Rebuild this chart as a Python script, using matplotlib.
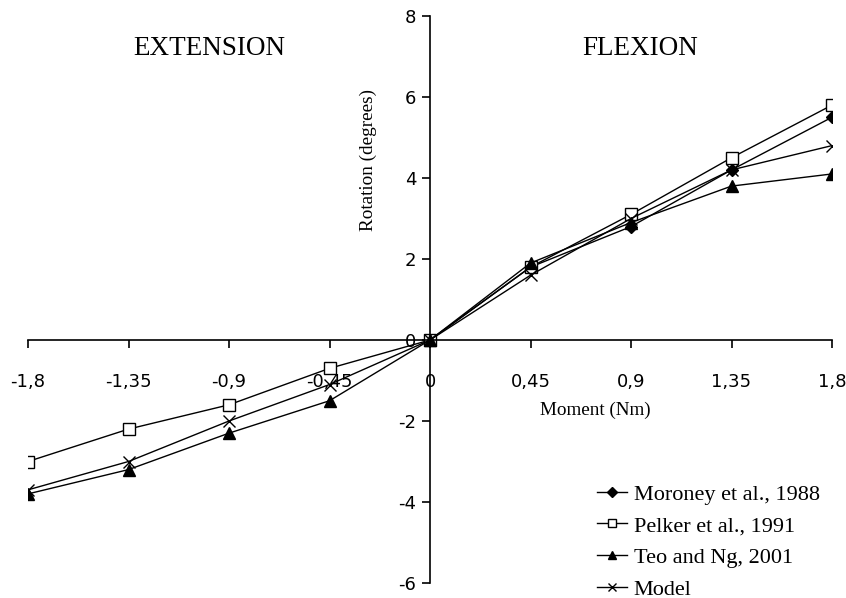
import matplotlib
matplotlib.use("Agg")
from matplotlib import pyplot as plt

# moment (Nm) and rotation (degrees)
moment = [-1.8, -1.35, -0.9, -0.45, 0, 0.45, 0.9, 1.35, 1.8]
moment_flex = [0, 0.45, 0.9, 1.35, 1.8]
moroney = [0, 1.8, 2.8, 4.2, 5.5]
pelker = [-3.0, -2.2, -1.6, -0.7, 0, 1.8, 3.1, 4.5, 5.8]
teo = [-3.8, -3.2, -2.3, -1.5, 0, 1.9, 2.9, 3.8, 4.1]
model = [-3.7, -3.0, -2.0, -1.1, 0, 1.6, 3.0, 4.2, 4.8]

x_labels = ["-1,8", "-1,35", "-0,9", "-0,45", "0", "0,45", "0,9", "1,35", "1,8"]
y_ticks = [-6, -4, -2, 0, 2, 4, 6, 8]

serif = "Liberation Serif"
plt.rcParams["axes.unicode_minus"] = False


def main():
    fig = plt.figure(figsize=(8.46, 5.98), dpi=100)
    ax = fig.add_axes([28 / 846, 15 / 598, 804 / 846, 567 / 598])

    ax.plot(moment_flex, moroney, color="black", lw=1, marker="D", ms=6,
            label="Moroney et al., 1988")
    ax.plot(moment, pelker, color="black", lw=1, marker="s", ms=8,
            mfc="white", mec="black", label="Pelker et al., 1991")
    ax.plot(moment, teo, color="black", lw=1, marker="^", ms=8,
            label="Teo and Ng, 2001")
    ax.plot(moment, model, color="black", lw=1, marker="x", ms=8,
            label="Model")

    ax.set_xlim(-1.8, 1.8)
    ax.set_ylim(-6, 8)
    ax.spines["left"].set_position(("data", 0))
    ax.spines["bottom"].set_position(("data", 0))
    ax.spines["right"].set_visible(False)
    ax.spines["top"].set_visible(False)
    for s in ("left", "bottom"):
        ax.spines[s].set_linewidth(1.2)
    ax.set_xticks(moment)
    ax.set_xticklabels(x_labels)
    ax.set_yticks(y_ticks)
    ax.tick_params(axis="x", direction="out", length=6, width=1.2, pad=18,
                   labelsize=13)
    ax.tick_params(axis="y", direction="out", length=6, width=1.2, pad=4,
                   labelsize=13)

    ax.text(-0.99, 7.2, "EXTENSION", fontfamily=serif, fontsize=19.5,
            ha="center", va="center")
    ax.text(0.94, 7.2, "FLEXION", fontfamily=serif, fontsize=19.5,
            ha="center", va="center")
    ax.text(-0.275, 4.45, "Rotation (degrees)", fontfamily=serif, fontsize=13.8,
            rotation=90, ha="center", va="center")
    ax.text(0.74, -1.73, "Moment (Nm)", fontfamily=serif, fontsize=13.8,
            ha="center", va="center")

    ax.legend(loc="upper left", bbox_to_anchor=(577 / 846, (598 - 464) / 598),
              bbox_transform=fig.transFigure, frameon=False,
              prop={"family": serif, "size": 16}, handlelength=1.35,
              handletextpad=0.3, labelspacing=0.5, markerscale=0.8)

    fig.savefig("out.png", dpi=100)


if __name__ == "__main__":
    main()
